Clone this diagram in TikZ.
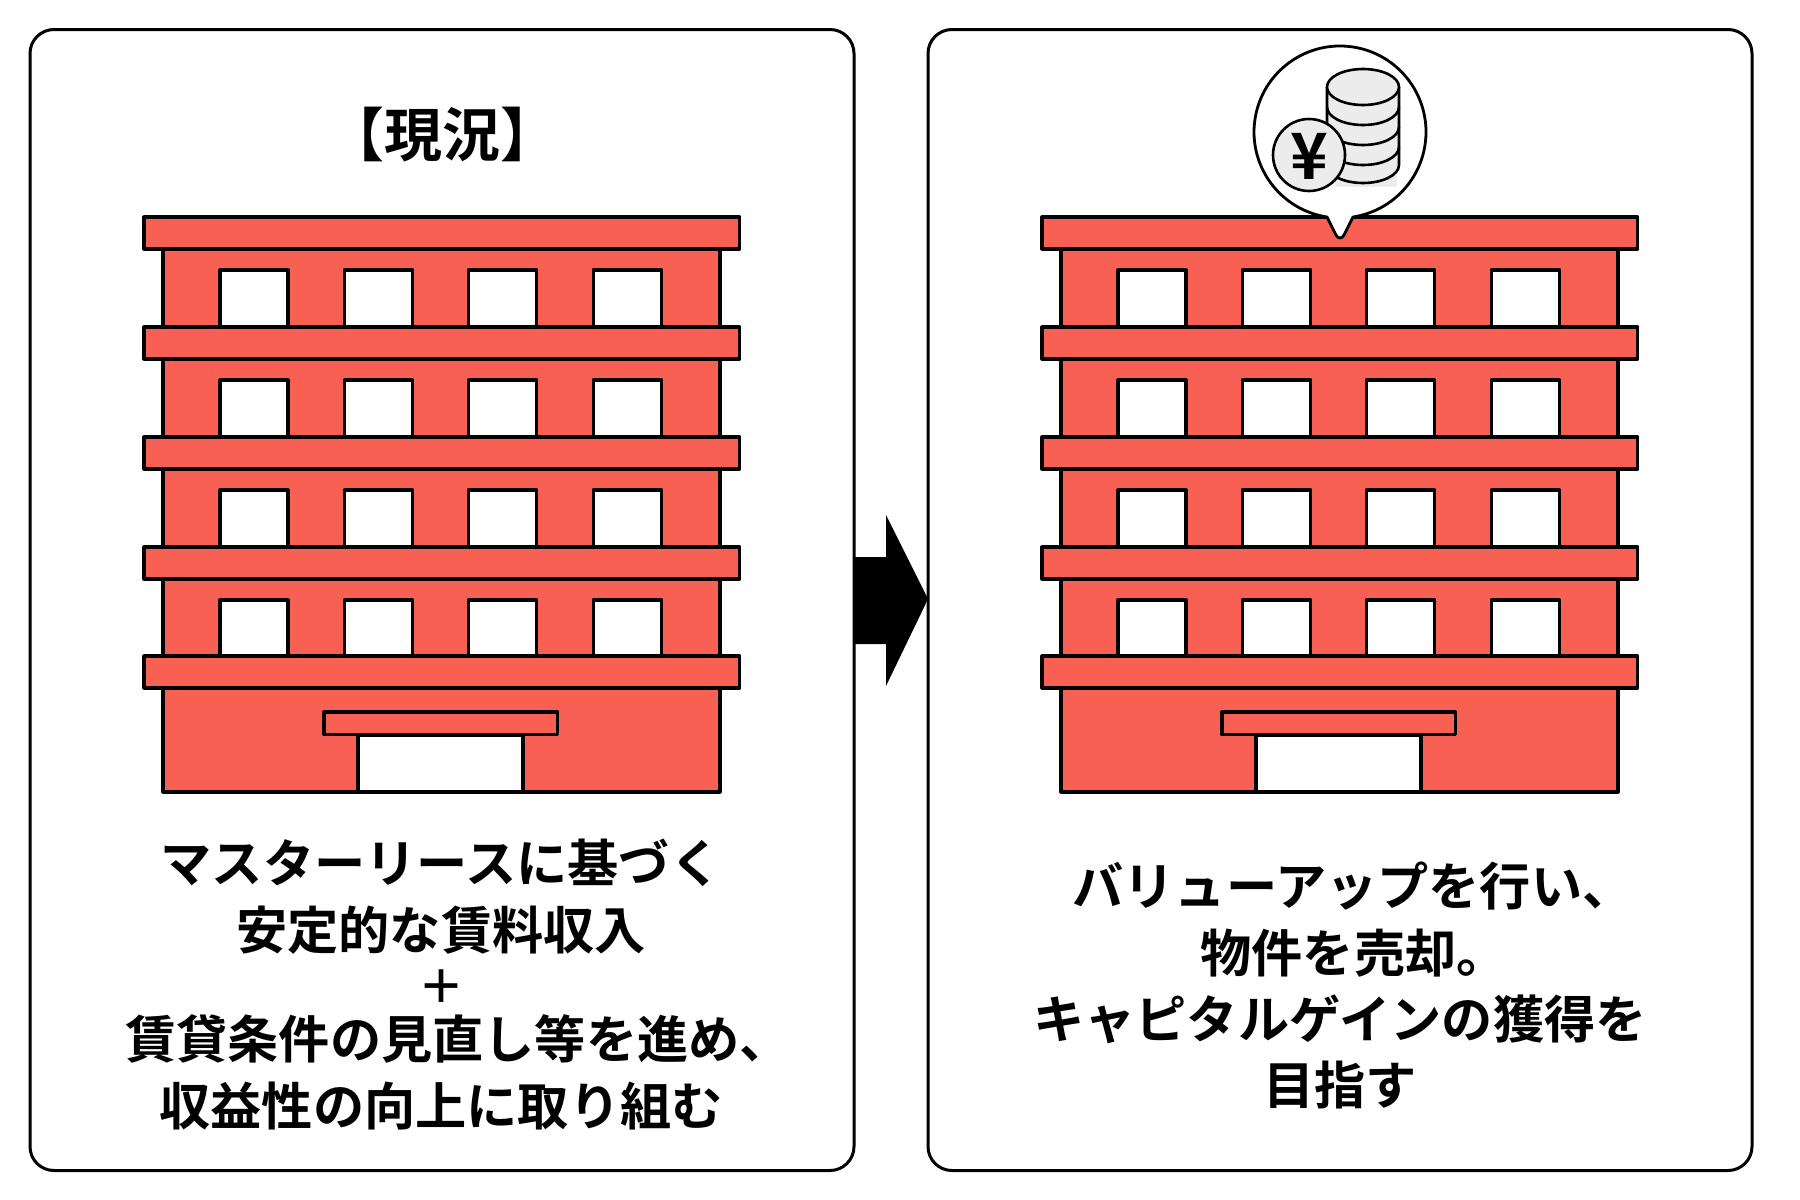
\documentclass[tikz,border=0pt]{standalone}
\usepackage{xcolor}
\usepackage{fontspec}
\newfontfamily\cjk{Noto Sans CJK JP Bold}
\definecolor{brick}{HTML}{F86054}
\definecolor{coin}{HTML}{ECECEC}
\tikzset{
	panel/.style={rectangle,draw,line width=1.5pt,rounded corners=12pt,minimum width=412pt,minimum height=570.5pt,inner sep=0pt},
	caption/.style={font=\cjk\fontsize{25.6pt}{25.6pt}\selectfont,inner sep=0pt,anchor=center},
	wall/.style={draw,line width=1.6pt,fill=brick,line join=round},
	pane/.style={draw,line width=1.6pt,fill=white,line join=round},
	coinline/.style={draw,line width=1.3pt,fill=coin,line join=round},
	building/.pic={
		% four storeys, each 110 high
		\foreach \yy in {249,359,469,579}{
			\path[wall] (163,\yy) rectangle (720,\yy+80);
			\foreach \xx in {220,344.5,468.5,593.5}{
				\path[pane] (\xx,\yy+21) rectangle (\xx+68,\yy+78);
			}
		}
		\path[wall] (163,688) rectangle (720,792);
		\path[pane] (358,735) rectangle (523,792);
		\path[wall] (324,712) rectangle (557.5,734.5);
		\foreach \yy in {217,327,437,547,656}{
			\path[wall] (144,\yy) rectangle (739.5,\yy+32);
		}
	}
}

\begin{document}
\begin{tikzpicture}[x=0.5pt,y=-0.5pt]
	\useasboundingbox[fill=white] (0,0) rectangle (1800,1200);
	\node [panel] (now) at (442,600) {};
	\node [panel] (after) at (1340,600) {};

	\fill (854,557) -- (886,557) -- (886,515) -- (928,599) -- (886,686) -- (886,644) -- (854,644) -- cycle;

	\pic at (0,0) {building};
	\pic at (898,0) {building};

	% speech bubble over the right roof
	\draw[line width=1.4pt,fill=white,line join=round] (1327,217) arc[start angle=261.3,end angle=-81.3,radius=43pt]
		-- (1344,235) .. controls (1342,239) and (1338,239) .. (1336,235) -- cycle;

	\fill[coin] (1335,176) rectangle (1397,187);
	\path[coinline] (1327,87) -- (1327,165) arc[start angle=180,end angle=360,x radius=18pt,y radius=9pt] -- (1399,87);
	\foreach \yy in {147,127,107}{
		\draw[line width=1.3pt] (1327,\yy) arc[start angle=180,end angle=360,x radius=18pt,y radius=9pt];
	}
	\path[coinline] (1363,87) ellipse[x radius=18pt,y radius=9pt];
	\node [circle,coinline,minimum size=36pt,inner sep=0pt] (yencoin) at (1309,155) {};
	\node [caption,font=\cjk\fontsize{32pt}{32pt}\selectfont] (yen) at (1309,156) {¥};

	\node [caption,font=\cjk\fontsize{29pt}{29pt}\selectfont] (title) at (442,135) {【現況】};

	\node [caption] (now1) at (441,863) {マスターリースに基づく};
	\node [caption] (now2) at (441,930) {安定的な賃料収入};
	\node [caption,font=\cjk\fontsize{23pt}{23pt}\selectfont] (now3) at (441,987) {＋};
	\node [caption] (now4) at (458,1039) {賃貸条件の見直し等を進め、};
	\node [caption] (now5) at (441,1106) {収益性の向上に取り組む};

	\node [caption] (after1) at (1353,886) {バリューアップを行い、};
	\node [caption] (after2) at (1354,953) {物件を売却。};
	\node [caption] (after3) at (1340,1019) {キャピタルゲインの獲得を};
	\node [caption] (after4) at (1340,1085) {目指す};
\end{tikzpicture}
\end{document}
